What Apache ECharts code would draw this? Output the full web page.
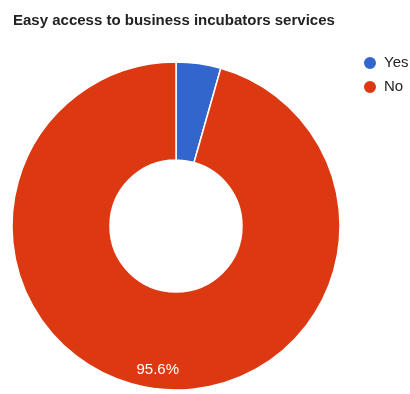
<!DOCTYPE html>
<html>
<head>
<meta charset="utf-8">
<script src="https://cdn.jsdelivr.net/npm/echarts@6/dist/echarts.min.js"></script>
<style>
  html, body { margin: 0; padding: 0; background: #fff; }
  #chart { width: 410px; height: 394px; }
</style>
</head>
<body>
<div id="chart"></div>
<script>
// Survey answers and their shares (percent)
const categories = ['Yes', 'No'];
const shares = [4.4, 95.6];
const colors = ['#3366cc', '#dc3912'];
const labelled = [false, true];

const chart = echarts.init(document.getElementById('chart'));

chart.setOption({
  animation: false,
  title: {
    text: 'Easy access to business incubators services',
    left: 8,
    top: 8,
    textStyle: {
      fontFamily: 'Liberation Sans, Arial, sans-serif',
      fontSize: 15,
      fontWeight: 'bold',
      color: '#222'
    }
  },
  legend: {
    orient: 'vertical',
    left: 357,
    top: 50,
    icon: 'circle',
    itemWidth: 14,
    itemHeight: 14,
    itemGap: 8,
    data: categories,
    textStyle: {
      fontFamily: 'Liberation Sans, Arial, sans-serif',
      fontSize: 15,
      color: '#222',
      padding: [0, 0, 0, 2]
    }
  },
  series: [{
    type: 'pie',
    center: [176, 226],
    radius: [66, 164],
    startAngle: 90,
    clockwise: true,
    itemStyle: { borderColor: '#fff', borderWidth: 1.5 },
    labelLine: { show: false },
    emphasis: { disabled: true },
    data: categories.map((name, i) => ({
      name,
      value: shares[i],
      itemStyle: { color: colors[i] },
      label: {
        show: labelled[i],
        position: 'inside',
        formatter: (p) => p.value.toFixed(1) + '%',
        color: '#fff',
        fontFamily: 'Liberation Sans, Arial, sans-serif',
        fontSize: 15,
        offset: [-2, 27]
      }
    }))
  }]
});
</script>
</body>
</html>
